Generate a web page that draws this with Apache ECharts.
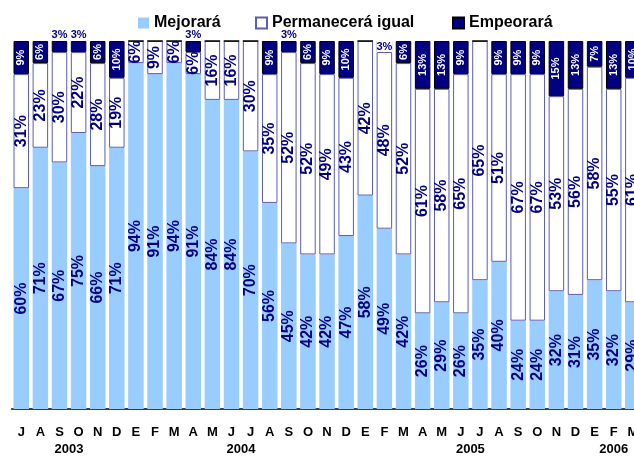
<!DOCTYPE html>
<html>
<head>
<meta charset="utf-8">
<script src="https://cdn.jsdelivr.net/npm/echarts@6/dist/echarts.min.js"></script>
<style>
  html, body { margin: 0; padding: 0; background: #fff; }
  #chart { width: 634px; height: 456px; }
</style>
</head>
<body>
<div id="chart"></div>
<script>
const months = ['J','A','S','O','N','D','E','F','M','A','M','J','J','A','S','O','N','D',
  'E','F','M','A','M','J','J','A','S','O','N','D','E','F','M'];
const yearNames = ['2003', '2004', '2005', '2006'];
const yearMonths = [6, 12, 12, 3];

const mejorara = [60,71,67,75,66,71,94,91,94,91,84,84,70,56,45,42,42,47,
  58,49,42,26,29,26,35,40,24,24,32,31,35,32,29];
const permanecera = [31,23,30,22,28,19,6,9,6,6,16,16,30,35,52,52,49,43,
  42,48,52,61,58,65,65,51,67,67,53,56,58,55,61];
const empeorara = [9,6,3,3,6,10,0,0,0,3,0,0,0,9,3,6,9,10,
  0,3,6,13,13,9,0,9,9,9,15,13,7,13,10];

const legendNames = ['Mejorará', 'Permanecerá igual', 'Empeorará'];

const Navy = '#000080';
const LightBlue = '#99ccff';
const font = '"Liberation Sans", Arial, sans-serif';

// centro de cada año sobre el eje
var yearCenters = [];
var acc = 0;
for (var i = 0; i < yearMonths.length; i++) {
  yearCenters.push(acc + yearMonths[i] / 2);
  acc += yearMonths[i];
}

function pctLabel(p) {
  return p.value ? p.value + '%' : '';
}

// los valores chicos de Empeorará van fuera de la barra, horizontales
function empeoraraData() {
  var data = [];
  for (var i = 0; i < empeorara.length; i++) {
    var v = empeorara[i];
    var item = { value: v };
    if (v > 0 && v < 5) {
      if (i == 19) {
        item.label = {
          position: 'insideTop', rotate: 0, distance: 0,
          color: Navy, fontSize: 11, backgroundColor: '#fff'
        };
      } else {
        item.label = { position: 'top', rotate: 0, distance: 1, color: Navy, fontSize: 11 };
      }
    }
    data.push(item);
  }
  return data;
}

function makeLegend(name, left) {
  return {
    left: left,
    top: 15,
    padding: 0,
    itemWidth: 11,
    itemHeight: 11,
    textStyle: { fontFamily: font, fontWeight: 'bold', fontSize: 16, color: '#000' },
    data: [{ name: name, icon: 'rect' }]
  };
}

const chart = echarts.init(document.getElementById('chart'), null, { renderer: 'canvas' });

var option = {
  backgroundColor: '#fff',
  animation: false,
  textStyle: { fontFamily: font },
  legend: [
    makeLegend(legendNames[0], 138),
    makeLegend(legendNames[1], 255),
    makeLegend(legendNames[2], 452)
  ],
  // la última barra queda cortada por el borde derecho
  grid: { left: 11.7, width: 630.7, top: 41, bottom: 47, outerBoundsMode: 'none' },
  xAxis: [{
    type: 'category',
    data: months,
    axisLine: { lineStyle: { color: '#000', width: 1.5 } },
    axisTick: { length: 5, lineStyle: { color: '#000', width: 1.5 } },
    axisLabel: {
      interval: 0, margin: 17, color: '#000',
      fontFamily: font, fontWeight: 'bold', fontSize: 13
    }
  }, {
    type: 'value',
    position: 'bottom',
    min: 0,
    max: months.length,
    axisLine: { show: false },
    axisTick: { show: false },
    splitLine: { show: false },
    axisLabel: {
      customValues: yearCenters,
      margin: 34,
      color: '#000',
      fontFamily: font, fontWeight: 'bold', fontSize: 13,
      formatter: function (v) {
        var idx = yearCenters.indexOf(v);
        return idx >= 0 ? yearNames[idx] : '';
      }
    }
  }],
  yAxis: { type: 'value', min: 0, max: 100, show: false },
  series: [{
    name: legendNames[0],
    type: 'bar',
    stack: 'total',
    barWidth: 15.5,
    data: mejorara,
    itemStyle: { color: LightBlue },
    label: {
      show: true, position: 'inside', rotate: 90, formatter: pctLabel,
      color: Navy, fontFamily: font, fontWeight: 'bold', fontSize: 16
    }
  }, {
    name: legendNames[1],
    type: 'bar',
    stack: 'total',
    data: permanecera,
    itemStyle: { color: '#fff', borderColor: '#5c5cb0', borderWidth: 1 },
    label: {
      show: true, position: 'inside', rotate: 90, formatter: pctLabel,
      color: Navy, fontFamily: font, fontWeight: 'bold', fontSize: 16
    }
  }, {
    name: legendNames[2],
    type: 'bar',
    stack: 'total',
    data: empeoraraData(),
    itemStyle: { color: Navy, borderColor: '#000', borderWidth: 1 },
    label: {
      show: true, position: 'inside', rotate: 90, formatter: pctLabel,
      color: '#fff', fontFamily: font, fontWeight: 'bold', fontSize: 11
    }
  }]
};

chart.setOption(option);
</script>
</body>
</html>
